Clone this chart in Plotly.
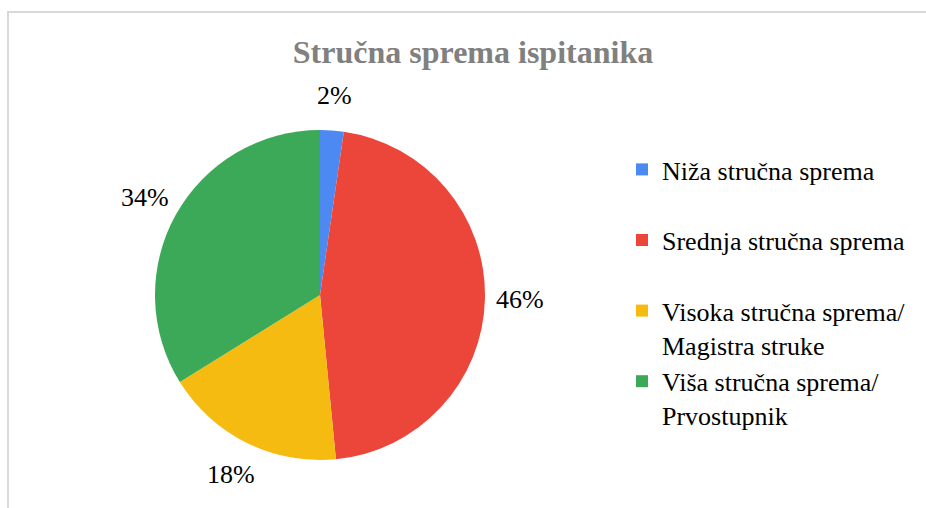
import math
import plotly.graph_objects as go

# ---- data ----
categories = [
    "Niža stručna sprema",
    "Srednja stručna sprema",
    "Visoka stručna sprema/<br>Magistra struke",
    "Viša stručna sprema/<br>Prvostupnik",
]
counts = [3, 60, 23, 44]
colors = ["#4c89f2", "#ec463a", "#f6bb10", "#3ba957"]
title_text = "Stručna sprema ispitanika"

W, H = 926, 508
FONT = "Liberation Serif, Times New Roman, serif"

# pie placement (pixels)
cx, cy, r = 320, 295, 165

legend_labels = [c if "<br>" in c else c + "<br>&nbsp;" for c in categories]

fig = go.Figure(go.Pie(
    labels=legend_labels,
    values=counts,
    sort=False,
    direction="clockwise",
    rotation=0,
    marker=dict(colors=colors, line=dict(width=0)),
    textinfo="none",
    hoverinfo="label+percent",
    domain=dict(x=[(cx - r) / W, (cx + r) / W], y=[1 - (cy + r) / H, 1 - (cy - r) / H]),
))

# percentage labels placed outside each slice at its mid-angle
total = sum(counts)
annotations = []
cum = 0
label_r = 200
for v in counts:
    mid = (cum + v / 2) / total * 2 * math.pi
    cum += v
    px = cx + label_r * math.sin(mid)
    py = cy - label_r * math.cos(mid)
    annotations.append(dict(
        x=px / W, y=1 - py / H, xref="paper", yref="paper",
        text=f"{round(v / total * 100)}%", showarrow=False,
        font=dict(family=FONT, size=26, color="#000000"),
        xanchor="center", yanchor="middle",
    ))

fig.update_layout(
    width=W, height=H,
    margin=dict(l=0, r=0, t=0, b=0),
    paper_bgcolor="white",
    plot_bgcolor="white",
    font=dict(family=FONT),
    title=dict(
        text=f"<b>{title_text}</b>",
        x=473 / W, xanchor="center", y=1 - 52 / H, yanchor="middle",
        font=dict(family=FONT, size=32, color="#808080"),
    ),
    legend=dict(
        x=622 / W, y=1 - 146 / H, xanchor="left", yanchor="top",
        font=dict(family=FONT, size=26, color="#000000"),
        valign="top",
        bgcolor="rgba(0,0,0,0)",
    ),
    annotations=annotations,
    shapes=[dict(
        type="rect", xref="paper", yref="paper",
        x0=8 / W, x1=1.2, y0=-0.2, y1=1 - 12 / H,
        line=dict(color="#d9d9d9", width=2), fillcolor="rgba(0,0,0,0)",
        layer="below",
    )],
)

fig.write_html("out.html")
